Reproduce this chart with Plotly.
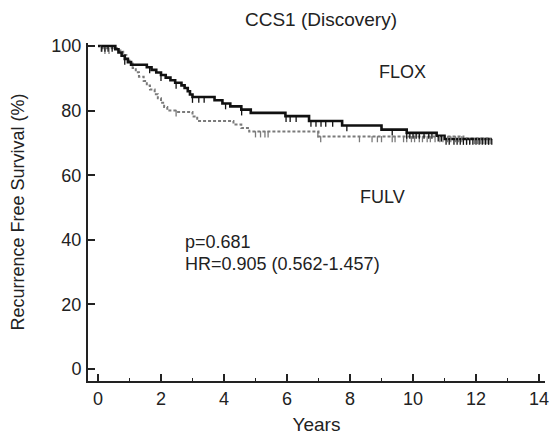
import plotly.graph_objects as go

# Kaplan-Meier step estimates (years, recurrence free survival %)
flox_times = [0.0, 0.55, 0.65, 0.75, 0.85, 0.95, 1.05, 1.55, 1.7, 1.85, 2.0, 2.15, 2.3, 2.45,
              2.65, 2.75, 2.85, 2.92, 3.0, 3.7, 3.95, 4.2, 4.55, 4.85, 5.95, 6.7, 7.75, 9.0,
              9.8, 10.75, 11.0, 12.5]
flox_surv = [100.0, 99.0, 98.0, 97.0, 96.0, 95.0, 94.2, 93.4, 92.6, 91.8, 91.0, 90.2, 89.4, 88.6,
             87.8, 87.0, 86.0, 85.0, 84.2, 83.2, 82.2, 81.3, 80.3, 79.3, 78.3, 76.8, 75.4, 74.1,
             73.1, 72.2, 71.2, 71.2]

fulv_times = [0.0, 0.15, 0.6, 0.8, 0.9, 1.0, 1.1, 1.2, 1.3, 1.45, 1.55, 1.65, 1.8, 1.9, 2.0,
              2.1, 2.2, 2.5, 3.0, 3.15, 4.3, 4.55, 4.8, 7.0, 11.6, 12.45]
fulv_surv = [100.0, 99.3, 98.6, 97.2, 96.0, 94.6, 93.2, 91.9, 90.5, 89.2, 87.8, 86.5, 85.1, 83.8,
             82.4, 81.1, 80.0, 79.6, 78.2, 76.8, 75.7, 74.6, 73.5, 72.0, 71.4, 71.4]

# Censoring times
flox_censor = [0.12, 0.22, 0.32, 0.45, 0.85, 1.64, 2.0, 2.48, 3.0, 3.2, 3.37, 4.05, 4.56,
               5.97, 6.1, 6.29, 6.76, 6.92, 7.08, 7.23, 7.45, 7.9, 9.34, 9.8, 9.9, 10.0,
               10.1, 10.2, 10.35, 10.5, 10.6, 10.8, 10.9, 11.05, 11.15, 11.3, 11.4, 11.5,
               11.6, 11.7, 11.8, 11.9, 12.0, 12.1, 12.2, 12.3, 12.4, 12.5]
fulv_censor = [0.1, 0.22, 0.35, 2.48, 5.0, 5.16, 5.3, 5.4, 6.98, 7.07, 8.3, 8.7, 8.87, 9.0,
               9.34, 9.43, 9.7, 9.8, 9.95, 10.05, 10.2, 10.3, 10.45, 10.55, 10.7, 10.85,
               10.95, 11.1, 11.2, 11.35, 11.45, 11.55, 11.7, 11.8, 11.95, 12.05, 12.15,
               12.25, 12.35, 12.45]

x_ticks = [0, 2, 4, 6, 8, 10, 12, 14]
y_ticks = [0, 20, 40, 60, 80, 100]


def surv_at(times, surv, t):
    """Value of the step function at time t."""
    val = surv[0]
    for ti, si in zip(times, surv):
        if ti <= t:
            val = si
        else:
            break
    return val


FONT = "Liberation Sans, Arial, sans-serif"
INK = "#222222"
FLOX_COLOR = "#111111"
FULV_COLOR = "#7a7a7a"

fig = go.Figure()

fig.add_trace(go.Scatter(
    x=fulv_times, y=fulv_surv, mode="lines", line_shape="hv",
    line=dict(color=FULV_COLOR, width=2, dash="3px,2px"), showlegend=False,
    hoverinfo="skip"))
fig.add_trace(go.Scatter(
    x=flox_times, y=flox_surv, mode="lines", line_shape="hv",
    line=dict(color=FLOX_COLOR, width=2.6), showlegend=False, hoverinfo="skip"))

# Censor marks hang below each curve
for times, surv, cens, col in [(fulv_times, fulv_surv, fulv_censor, FULV_COLOR),
                               (flox_times, flox_surv, flox_censor, FLOX_COLOR)]:
    fig.add_trace(go.Scatter(
        x=cens, y=[surv_at(times, surv, c) for c in cens], mode="markers",
        marker=dict(size=1, color=col),
        error_y=dict(type="constant", symmetric=False, value=0, valueminus=1.8,
                     color=col, thickness=1.3, width=0),
        showlegend=False, hoverinfo="skip"))

text_font = dict(family=FONT, size=18, color=INK)
fig.add_annotation(x=9.66, y=92, text="FLOX", showarrow=False, font=text_font)
fig.add_annotation(x=9.03, y=53.3, text="FULV", showarrow=False, font=text_font)
fig.add_annotation(x=2.7, y=39.2, text="p=0.681", showarrow=False, xanchor="left",
                   font=text_font)
fig.add_annotation(x=2.7, y=32.6, text="HR=0.905 (0.562-1.457)", showarrow=False,
                   xanchor="left", font=text_font)

fig.update_layout(
    template="none",
    width=551, height=439,
    margin=dict(l=88, r=6, t=43, b=58),
    paper_bgcolor="white", plot_bgcolor="white",
    font=dict(family=FONT, size=18, color=INK),
    title=dict(text="CCS1 (Discovery)", xref="container", x=0.5826, xanchor="center",
               yref="container", y=0.955, yanchor="middle",
               font=dict(family=FONT, size=19, color=INK)),
    xaxis=dict(
        range=[-0.317, 14.19], tickvals=x_ticks, ticks="inside", ticklen=7,
        tickwidth=1.5, tickcolor=INK, showline=True, linewidth=2, linecolor=INK,
        showgrid=False, zeroline=False, tickfont=dict(size=18), automargin=False,
        ticklabeloverflow="allow",
        minor=dict(dtick=1, tick0=0, ticks="inside", ticklen=3, tickwidth=1.3,
                   tickcolor=INK, showgrid=False),
        title=dict(text="Years", font=dict(size=19), standoff=10)),
    yaxis=dict(
        range=[-3.72, 100.93], tickvals=y_ticks, ticks="inside", ticklen=7,
        tickwidth=1.5, tickcolor=INK, showline=True, linewidth=2, linecolor=INK,
        showgrid=False, zeroline=False, tickfont=dict(size=18), ticklabelstandoff=1,
        automargin=False,
        title=dict(text="Recurrence Free Survival (%)", font=dict(size=18), standoff=22)),
)

fig.write_html("out.html")
